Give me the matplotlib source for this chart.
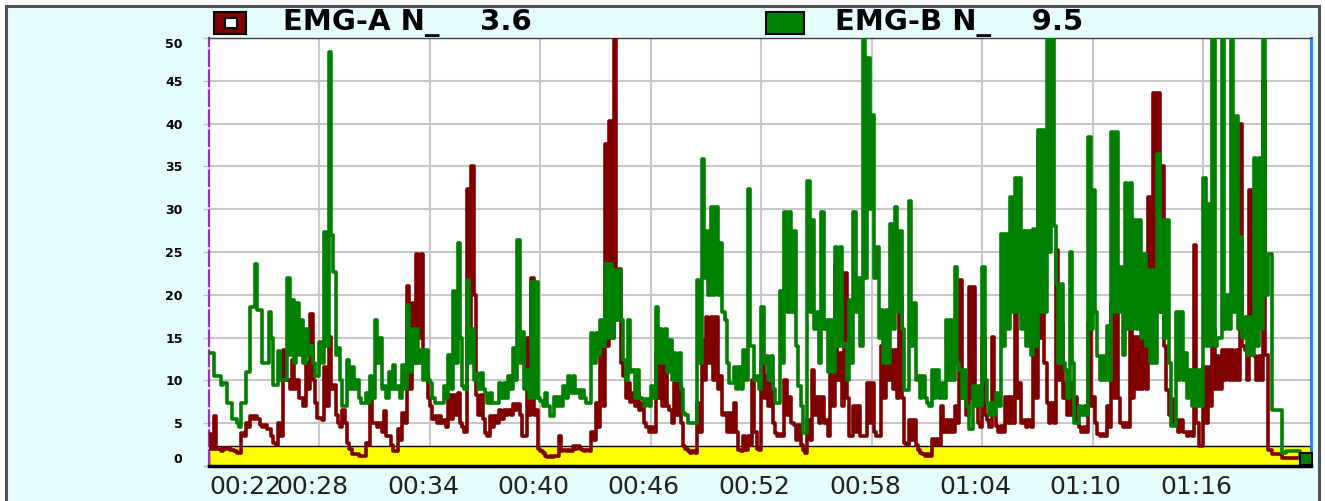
import numpy as np
import matplotlib
matplotlib.use("Agg")
import matplotlib.pyplot as plt
from matplotlib.patches import Rectangle
import matplotlib.transforms as mtransforms

# each sample covers 0.25 min from 00:22; it is read as a high then a low half-step
sample_step = 0.25

emg_b_hi = [13.2, 10.5, 10.5, 9.7, 7.4, 5.5, 5.0, 7.4, 11.0, 18.6,
            23.6, 18.2, 12.0, 18.0, 9.5, 13.4, 10.0, 22.0, 19.4, 19.0,
            17.0, 16.0, 14.0, 10.5, 14.5, 27.3, 48.4, 22.7, 13.8, 7.0,
            12.4, 11.6, 10.0, 7.4, 8.5, 10.5, 17.0, 15.0, 9.3, 11.0,
            11.8, 9.3, 11.8, 18.8, 16.0, 16.0, 13.6, 13.6, 9.7, 7.4,
            7.4, 9.3, 13.0, 20.5, 26.0, 9.3, 21.7, 16.0, 10.9, 10.9,
            8.5, 8.5, 7.4, 9.7, 9.7, 10.5, 13.8, 26.4, 15.7, 11.2,
            21.5, 21.5, 7.6, 8.5, 5.8, 8.1, 8.1, 9.3, 10.5, 10.5,
            8.9, 8.9, 7.4, 15.5, 15.5, 17.0, 23.6, 23.6, 22.9, 22.9,
            12.4, 17.0, 11.2, 11.2, 7.8, 7.8, 9.3, 18.6, 16.0, 16.0,
            14.7, 13.2, 13.2, 6.2, 5.0, 5.0, 21.7, 35.9, 27.5, 30.2,
            30.2, 26.0, 17.0, 9.7, 11.6, 11.6, 13.6, 32.4, 14.0, 10.5,
            18.6, 12.8, 12.8, 7.4, 20.5, 29.7, 29.7, 27.5, 9.3, 3.9,
            33.3, 28.7, 18.0, 29.7, 17.0, 17.0, 25.6, 25.6, 14.3, 19.4,
            29.7, 22.0, 52.0, 47.7, 41.0, 25.6, 18.2, 18.2, 28.3, 30.2,
            27.5, 8.9, 31.0, 19.0, 10.5, 10.5, 7.4, 11.2, 11.2, 9.7,
            17.0, 17.0, 23.3, 11.2, 11.2, 4.3, 9.3, 9.3, 23.3, 7.4,
            7.4, 8.5, 27.1, 27.1, 31.4, 33.7, 33.7, 27.5, 27.5, 27.7,
            39.3, 39.3, 52.0, 52.0, 21.3, 21.3, 11.2, 25.0, 5.0, 7.0,
            7.0, 38.4, 32.2, 12.8, 12.8, 16.3, 39.0, 39.0, 23.3, 33.1,
            33.1, 28.7, 28.7, 24.8, 22.9, 22.9, 36.4, 28.7, 28.7, 4.7,
            18.0, 18.0, 13.2, 11.2, 11.2, 11.2, 33.7, 30.6, 52.0, 15.0,
            52.0, 20.0, 52.0, 40.9, 26.7, 17.4, 17.4, 36.0, 36.0, 52.0,
            24.8, 6.6, 6.6, 1.5, 1.7, 1.7, 1.7, 0.8, 0.8, 0.8]

emg_b_lo = [13.2, 10.5, 9.5, 9.7, 7.4, 5.5, 4.5, 7.4, 11.0, 18.6,
            18.2, 12.0, 12.0, 15.0, 9.5, 10.0, 10.0, 13.0, 12.0, 13.0,
            12.0, 13.0, 12.0, 10.5, 12.0, 14.0, 27.0, 13.0, 10.0, 7.0,
            9.0, 9.0, 8.0, 7.4, 7.4, 8.0, 12.0, 9.0, 8.0, 9.0,
            9.0, 8.0, 9.0, 11.0, 12.0, 12.0, 10.0, 10.0, 8.0, 7.4,
            7.4, 8.0, 9.0, 12.0, 15.0, 9.0, 12.0, 10.0, 9.0, 9.0,
            7.4, 7.4, 7.4, 8.0, 8.0, 9.0, 10.0, 12.0, 9.0, 8.0,
            8.0, 8.0, 7.0, 7.0, 5.8, 7.0, 7.0, 8.0, 8.5, 8.5,
            8.0, 8.0, 7.4, 12.0, 13.0, 14.0, 15.0, 15.0, 17.0, 17.0,
            10.0, 11.0, 8.0, 8.0, 7.0, 7.0, 8.0, 12.0, 12.0, 11.0,
            10.0, 10.0, 9.0, 6.0, 5.0, 5.0, 12.0, 22.0, 20.0, 20.0,
            20.0, 18.0, 12.0, 9.7, 9.0, 9.0, 10.0, 14.0, 10.0, 9.0,
            12.0, 10.0, 9.0, 7.4, 12.0, 18.0, 18.0, 14.0, 7.0, 3.9,
            18.0, 16.0, 12.0, 16.0, 11.0, 11.0, 14.0, 14.0, 10.0, 12.0,
            18.0, 14.0, 22.0, 30.0, 22.0, 15.0, 12.0, 12.0, 16.0, 18.0,
            16.0, 8.9, 14.0, 10.0, 8.0, 8.0, 7.0, 8.0, 8.0, 8.0,
            10.0, 10.0, 12.0, 8.0, 7.0, 4.3, 7.0, 7.0, 10.0, 6.0,
            6.0, 7.0, 14.0, 16.0, 18.0, 18.0, 16.0, 14.0, 13.0, 14.0,
            18.0, 18.0, 25.0, 28.0, 12.0, 12.0, 8.0, 12.0, 5.0, 6.0,
            6.0, 16.0, 18.0, 10.0, 10.0, 10.0, 18.0, 18.0, 13.0, 16.0,
            16.0, 16.0, 15.0, 14.0, 12.0, 12.0, 18.0, 15.0, 12.0, 4.7,
            10.0, 10.0, 8.0, 7.0, 7.0, 7.0, 14.0, 14.0, 14.0, 15.0,
            16.0, 16.0, 18.0, 16.0, 15.0, 13.0, 13.0, 14.0, 16.0, 20.0,
            24.8, 6.6, 6.6, 1.5, 1.7, 1.7, 1.7, 0.8, 0.8, 0.8]

emg_a_hi = [3.7, 5.8, 2.0, 2.1, 2.1, 1.9, 1.5, 3.9, 5.0, 5.8,
            5.8, 4.8, 4.8, 4.3, 2.7, 5.0, 13.6, 10.0, 12.4, 10.0,
            8.0, 12.0, 17.8, 7.4, 5.6, 11.6, 15.1, 9.5, 5.0, 6.6,
            2.7, 1.4, 1.4, 1.2, 2.7, 7.8, 5.0, 5.0, 6.4, 3.5,
            1.7, 4.3, 6.2, 21.0, 19.0, 24.8, 24.8, 10.9, 7.0, 5.8,
            5.8, 5.4, 8.3, 8.3, 8.5, 4.5, 32.4, 35.0, 8.3, 8.3,
            3.9, 5.8, 5.8, 6.6, 6.6, 6.6, 7.2, 7.2, 3.5, 14.9,
            22.0, 6.6, 1.7, 1.2, 1.2, 1.2, 3.5, 1.9, 1.9, 2.3,
            2.3, 1.9, 1.9, 4.0, 7.4, 14.3, 37.6, 40.3, 52.0, 23.0,
            10.5, 9.7, 8.5, 8.5, 7.4, 4.5, 4.5, 13.2, 12.0, 12.0,
            6.6, 9.7, 9.7, 2.3, 1.7, 1.7, 7.4, 14.7, 17.4, 17.4,
            17.4, 10.5, 6.2, 6.2, 7.4, 1.9, 3.5, 3.5, 10.0, 2.0,
            12.0, 10.5, 10.5, 3.9, 3.7, 10.0, 8.1, 4.8, 4.8, 1.9,
            5.4, 11.2, 8.1, 8.1, 5.4, 10.9, 23.6, 13.2, 22.5, 3.5,
            7.0, 7.0, 3.5, 9.7, 9.7, 3.5, 14.0, 16.3, 13.6, 13.6,
            19.8, 2.7, 5.4, 5.4, 1.9, 1.4, 1.4, 3.1, 3.1, 7.0,
            5.4, 5.4, 7.0, 21.7, 10.5, 20.9, 20.9, 5.0, 15.1, 5.4,
            15.1, 4.7, 4.7, 8.1, 8.1, 20.5, 9.7, 5.4, 5.4, 19.0,
            38.4, 30.6, 7.4, 7.4, 25.2, 16.7, 9.7, 9.7, 8.1, 4.5,
            4.5, 16.7, 8.1, 3.7, 3.7, 7.0, 19.0, 19.0, 5.0, 5.0,
            19.0, 15.1, 15.1, 15.1, 31.4, 43.6, 43.6, 35.1, 8.9, 7.8,
            5.4, 5.4, 4.0, 4.0, 25.8, 2.3, 11.6, 11.6, 15.9, 12.8,
            13.6, 13.6, 13.6, 13.6, 39.9, 13.6, 32.2, 12.8, 12.8, 45.0,
            1.9, 1.4, 1.4, 0.9, 0.9, 0.9, 0.9, 0.9, 0.9, 0.9]

emg_a_lo = [2.0, 2.0, 1.8, 2.0, 1.9, 1.8, 1.5, 3.5, 4.5, 5.5,
            5.5, 4.5, 4.3, 3.5, 2.5, 3.5, 10.0, 9.0, 9.0, 8.0,
            7.0, 9.0, 10.0, 5.6, 5.4, 7.0, 9.0, 6.0, 4.5, 5.0,
            2.0, 1.4, 1.2, 1.2, 2.5, 5.0, 4.5, 4.0, 3.5, 2.5,
            1.7, 3.0, 5.0, 9.0, 12.0, 15.0, 13.0, 8.0, 5.5, 5.0,
            5.0, 4.5, 5.5, 6.0, 5.0, 4.0, 14.0, 20.0, 6.0, 5.5,
            3.5, 4.5, 5.0, 5.5, 6.0, 6.0, 6.5, 6.0, 3.5, 6.0,
            6.0, 2.0, 1.5, 1.0, 1.0, 1.2, 1.8, 1.8, 1.8, 2.0,
            2.0, 1.8, 1.8, 3.0, 4.5, 7.0, 14.0, 15.0, 22.0, 12.0,
            8.0, 7.5, 7.0, 6.5, 5.0, 4.0, 4.0, 8.0, 7.0, 7.0,
            5.0, 6.0, 5.0, 2.0, 1.5, 1.5, 4.0, 10.0, 12.0, 10.0,
            9.0, 6.0, 4.0, 4.0, 4.0, 1.7, 1.9, 2.5, 4.0, 1.9,
            8.0, 7.0, 5.0, 3.5, 3.5, 6.0, 5.0, 3.0, 2.5, 1.5,
            3.0, 6.0, 5.0, 5.0, 3.5, 7.0, 10.0, 7.0, 8.0, 3.5,
            4.0, 3.5, 3.5, 5.0, 4.0, 3.5, 8.0, 10.0, 9.0, 8.0,
            8.0, 2.5, 3.0, 2.5, 1.5, 1.2, 1.2, 2.5, 2.5, 4.0,
            4.0, 4.0, 5.0, 8.0, 6.0, 8.0, 8.0, 4.5, 6.0, 4.5,
            6.0, 4.0, 4.0, 5.0, 5.0, 8.0, 5.0, 4.5, 4.5, 8.0,
            15.0, 12.0, 5.0, 5.0, 10.0, 8.0, 6.0, 6.0, 5.0, 4.0,
            4.0, 7.0, 5.0, 3.5, 3.5, 4.5, 8.0, 8.0, 4.5, 4.5,
            8.0, 9.0, 9.0, 9.0, 14.0, 20.0, 18.0, 14.0, 6.0, 5.0,
            4.0, 4.0, 3.5, 3.5, 5.0, 2.3, 5.0, 7.0, 9.0, 9.0,
            10.0, 10.0, 10.0, 10.0, 14.0, 10.0, 13.0, 10.0, 10.0, 13.0,
            1.9, 1.4, 1.4, 0.9, 0.9, 0.9, 0.9, 0.9, 0.9, 0.9]

threshold = 2.3
x_ticks = [0, 6, 12, 18, 24, 30, 36, 42, 48, 54]
x_tick_labels = ["00:22", "00:28", "00:34", "00:40", "00:46",
                 "00:52", "00:58", "01:04", "01:10", "01:16"]
y_ticks = [0, 5, 10, 15, 20, 25, 30, 35, 40, 45, 50]

legend_names = ["EMG-A N_", "EMG-B N_"]
legend_values = ["3.6", "9.5"]

RED = "#800000"
GREEN = "#008000"
W, H = 1325, 501


def half_steps(hi, lo):
    # interleave the high and low reading of each sample
    t = np.arange(len(hi) * 2) * (sample_step / 2)
    y = np.column_stack([hi, lo]).ravel()
    return t, y


fig = plt.figure(figsize=(W / 100, H / 100), dpi=100)
fig.patch.set_facecolor("white")
fig.patches.append(Rectangle((6 / W, -0.02), (1319 - 6) / W, 1 - 6 / H + 0.02,
                             transform=fig.transFigure, facecolor="#e6fdfd",
                             edgecolor="#505050", lw=2.2, zorder=-10))

ax = fig.add_axes([209 / W, 1 - 466 / H, (1311 - 209) / W, (466 - 38) / H])
ax.set_facecolor("white")

ta, ya = half_steps(emg_a_hi, emg_a_lo)
tb, yb = half_steps(emg_b_hi, emg_b_lo)
ax.axhspan(0, threshold, facecolor="#ffff00", edgecolor="black", lw=1.0, zorder=2)
ax.plot(ta, ya, drawstyle="steps-post", color=RED, lw=2.6, zorder=3)
ax.plot(tb, yb, drawstyle="steps-post", color=GREEN, lw=2.6, zorder=4)
ax.plot(tb[-1] - 0.3, yb[-1], marker="s", ms=9, mfc=GREEN, mec="black",
        mew=1.5, zorder=5, clip_on=False)

ax.set_xlim(0.09, 59.85)
ax.set_ylim(0, 50)
ax.set_xticks(x_ticks)
ax.set_xticklabels([])
ax.set_yticks(y_ticks)
ax.set_yticklabels([str(v) for v in y_ticks], fontsize=9, fontweight="bold")
ax.tick_params(axis="x", length=0)
ax.tick_params(axis="y", length=4, color="#c0c0c0", width=1, pad=15)
ax.yaxis.get_ticklabels()[0].set_verticalalignment("bottom")
ax.yaxis.get_ticklabels()[-1].set_verticalalignment("top")
ax.grid(True, color="#c8c8c8", lw=1.5, zorder=1)
ax.set_axisbelow(True)

# x labels sit a little left of the grid lines, first one starts at the axis
blend = mtransforms.blended_transform_factory(ax.transData, ax.transAxes)
shift = mtransforms.ScaledTranslation(-7 / 100, 0, fig.dpi_scale_trans)
for tk, lab in zip(x_ticks, x_tick_labels):
    if tk == x_ticks[0]:
        ax.text(0.0, -0.022, lab, transform=ax.transAxes, ha="left", va="top",
                fontsize=18, color="#222222", clip_on=False)
    else:
        ax.text(tk, -0.022, lab, transform=blend + shift, ha="center", va="top",
                fontsize=18, color="#222222", clip_on=False)

ax.spines["left"].set_color("#a030b0")
ax.spines["left"].set_linestyle((0, (7, 2)))
ax.spines["left"].set_linewidth(1.6)
ax.spines["right"].set_color("#2a7fff")
ax.spines["right"].set_linewidth(2.2)
ax.spines["top"].set_color("#404040")
ax.spines["top"].set_linewidth(1.0)
ax.spines["bottom"].set_color("black")
ax.spines["bottom"].set_linewidth(2.5)

# legend header
fig.patches.append(Rectangle((214 / W, 1 - 34 / H), 32 / W, 22 / H, transform=fig.transFigure,
                             facecolor=RED, edgecolor="black", lw=1.5))
fig.patches.append(Rectangle((225 / W, 1 - 28 / H), 12 / W, 10 / H, transform=fig.transFigure,
                             facecolor="white", edgecolor="black", lw=1.5))
fig.patches.append(Rectangle((766 / W, 1 - 34 / H), 38 / W, 22 / H, transform=fig.transFigure,
                             facecolor=GREEN, edgecolor="black", lw=1.5))
for xpos, name, val in zip([283, 835], legend_names, legend_values):
    fig.text(xpos / W, 1 - 23 / H, f"{name}    {val}", fontsize=21, fontweight="bold",
             ha="left", va="center", color="black")

fig.savefig("out.png", dpi=100, facecolor=fig.get_facecolor())
